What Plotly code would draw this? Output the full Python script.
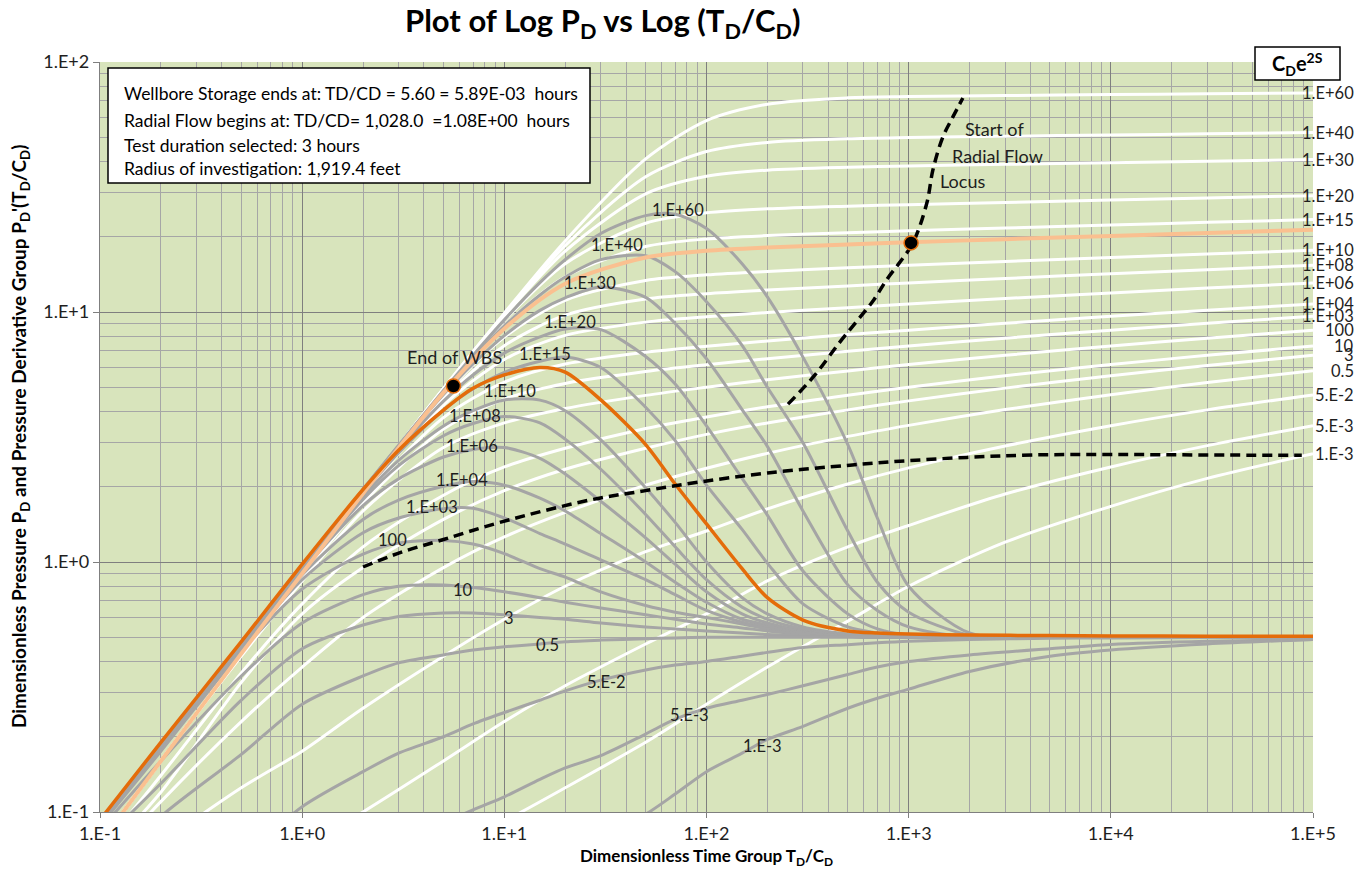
import math
import plotly.graph_objects as go

# ---------------- data ----------------
x_pd = [0.1, 0.2, 0.5, 1, 2, 5, 10, 20, 50, 100, 200, 500, 1000, 3000, 1e4, 3e4, 1e5]
x_der = [0.1, 0.2, 0.5, 1, 2, 3, 5, 7, 10, 15, 20, 30, 50, 70, 100, 150, 200, 300,
         500, 700, 1000, 2000, 5000, 1e4, 3e4, 1e5]

curve_labels = ["1.E+60", "1.E+40", "1.E+30", "1.E+20", "1.E+15", "1.E+10", "1.E+08",
                "1.E+06", "1.E+04", "1.E+03", "100", "10", "3", "0.5", "5.E-2", "5.E-3", "1.E-3"]

# dimensionless pressure P_D (white curves)
pd_1e60 = [0.075, 0.16, 0.43, 0.9, 1.9, 4.95, 9.9, 19.25, 40.96, 58.3, 67.8, 71.9, 72.7, 73.4, 74.1, 74.6, 75.2]
pd_1e40 = [0.075, 0.16, 0.43, 0.9, 1.9, 4.95, 9.79, 18.44, 34.78, 43.83, 47.69, 49.31, 49.85, 50.45, 51.06, 51.61, 52.21]
pd_1e30 = [0.075, 0.16, 0.43, 0.9, 1.9, 4.93, 9.64, 17.53, 29.69, 34.9, 36.94, 37.94, 38.37, 38.95, 39.55, 40.1, 40.7]
pd_1e20 = [0.075, 0.16, 0.43, 0.9, 1.89, 4.88, 9.26, 15.6, 22.64, 24.92, 25.86, 26.5, 26.87, 27.43, 28.04, 28.59, 29.19]
pd_1e15 = [0.075, 0.16, 0.43, 0.9, 1.89, 4.81, 8.83, 13.84, 18.27, 19.59, 20.21, 20.75, 21.12, 21.68, 22.28, 22.83, 23.43]
pd_1e10 = [0.075, 0.16, 0.43, 0.9, 1.87, 4.63, 7.94, 11.14, 13.37, 14.08, 14.53, 15.02, 15.37, 15.92, 16.52, 17.07, 17.67]
pd_1e08 = [0.075, 0.16, 0.43, 0.9, 1.86, 4.49, 7.33, 9.71, 11.27, 11.84, 12.24, 12.71, 13.07, 13.62, 14.22, 14.77, 15.37]
pd_1e06 = [0.075, 0.16, 0.43, 0.89, 1.84, 4.24, 6.46, 8.06, 9.11, 9.57, 9.95, 10.41, 10.77, 11.32, 11.92, 12.47, 13.07]
pd_1e04 = [0.075, 0.16, 0.43, 0.88, 1.78, 3.78, 5.24, 6.19, 6.9, 7.29, 7.65, 8.12, 8.46, 9.01, 9.61, 10.16, 10.77]
pd_1e03 = [0.075, 0.16, 0.43, 0.87, 1.72, 3.4, 4.48, 5.18, 5.78, 6.15, 6.5, 6.97, 7.31, 7.86, 8.46, 9.01, 9.62]
pd_100 = [0.075, 0.16, 0.42, 0.84, 1.6, 2.87, 3.6, 4.11, 4.64, 5.0, 5.36, 5.81, 6.16, 6.71, 7.31, 7.86, 8.46]
pd_10 = [0.07, 0.14, 0.36, 0.68, 1.15, 1.85, 2.4, 2.85, 3.42, 3.8, 4.18, 4.65, 5.0, 5.56, 6.16, 6.71, 7.31]
pd_3 = [0.065, 0.12, 0.33, 0.62, 0.95, 1.48, 1.93, 2.35, 2.85, 3.24, 3.6, 4.06, 4.41, 4.96, 5.56, 6.11, 6.71]
pd_05 = [0.06, 0.11, 0.23, 0.38, 0.6, 0.95, 1.26, 1.58, 2.03, 2.37, 2.72, 3.18, 3.52, 4.07, 4.67, 5.22, 5.82]
pd_5em2 = [0.05, 0.075, 0.125, 0.175, 0.26, 0.42, 0.59, 0.8, 1.1, 1.33, 1.63, 2.05, 2.38, 2.91, 3.51, 4.06, 4.66]
pd_5em3 = [0.02, 0.03, 0.05, 0.072, 0.1, 0.16, 0.23, 0.32, 0.47, 0.62, 0.84, 1.15, 1.4, 1.87, 2.4, 2.92, 3.51]
pd_1em3 = [0.01, 0.014, 0.022, 0.03, 0.045, 0.07, 0.092, 0.125, 0.19, 0.27, 0.38, 0.58, 0.8, 1.2, 1.67, 2.16, 2.71]
pd_selected = [0.075, 0.16, 0.43, 0.9, 1.88, 4.76, 8.58, 12.98, 16.53, 17.58, 18.12, 18.63, 19.0, 19.56, 20.16, 20.71, 21.31]

# pressure derivative group (grey curves)
der_1e60 = [0.09, 0.185, 0.47, 0.95, 1.95, 2.93, 4.85, 6.7, 9.3, 13.1, 16.2, 20.6, 24.3, 24.6, 21.6, 15.6, 11.5, 6.6, 2.95, 1.5, 0.8, 0.52, 0.5, 0.5, 0.5, 0.5]
der_1e40 = [0.09, 0.185, 0.47, 0.95, 1.95, 2.92, 4.82, 6.55, 8.8, 11.7, 13.8, 16.2, 16.8, 14.5, 11.0, 7.35, 5.0, 3.0, 1.33, 0.83, 0.63, 0.51, 0.5, 0.5, 0.5, 0.5]
der_1e30 = [0.09, 0.185, 0.47, 0.95, 1.95, 2.9, 4.68, 6.2, 8.05, 10.15, 11.4, 12.6, 11.45, 9.0, 6.5, 4.07, 2.9, 1.6, 0.81, 0.64, 0.55, 0.5, 0.5, 0.5, 0.5, 0.5]
der_1e20 = [0.09, 0.185, 0.47, 0.95, 1.92, 2.83, 4.4, 5.6, 6.85, 7.95, 8.55, 8.5, 6.64, 5.15, 3.5, 2.16, 1.54, 0.92, 0.62, 0.54, 0.51, 0.5, 0.5, 0.5, 0.5, 0.5]
der_1e15 = [0.09, 0.185, 0.47, 0.95, 1.89, 2.73, 4.05, 4.93, 5.74, 6.35, 6.6, 6.0, 4.16, 3.06, 2.03, 1.35, 0.99, 0.68, 0.55, 0.52, 0.5, 0.5, 0.5, 0.5, 0.5, 0.5]
der_1e10 = [0.09, 0.185, 0.47, 0.94, 1.83, 2.55, 3.5, 4.03, 4.45, 4.44, 4.03, 3.08, 1.98, 1.44, 1.0, 0.72, 0.62, 0.55, 0.515, 0.505, 0.5, 0.5, 0.5, 0.5, 0.5, 0.5]
der_1e08 = [0.09, 0.185, 0.47, 0.93, 1.78, 2.43, 3.2, 3.58, 3.82, 3.6, 3.1, 2.35, 1.55, 1.15, 0.85, 0.66, 0.59, 0.54, 0.51, 0.505, 0.5, 0.5, 0.5, 0.5, 0.5, 0.5]
der_1e06 = [0.09, 0.18, 0.46, 0.92, 1.68, 2.15, 2.63, 2.82, 2.87, 2.6, 2.25, 1.75, 1.25, 0.98, 0.76, 0.62, 0.57, 0.53, 0.51, 0.505, 0.5, 0.5, 0.5, 0.5, 0.5, 0.5]
der_1e04 = [0.09, 0.18, 0.46, 0.89, 1.48, 1.77, 2.01, 2.1, 2.03, 1.8, 1.6, 1.3, 1.0, 0.83, 0.69, 0.59, 0.56, 0.525, 0.508, 0.503, 0.5, 0.5, 0.5, 0.5, 0.5, 0.5]
der_1e03 = [0.09, 0.18, 0.45, 0.85, 1.31, 1.5, 1.635, 1.64, 1.5, 1.3, 1.18, 1.02, 0.85, 0.74, 0.64, 0.575, 0.55, 0.52, 0.505, 0.5, 0.5, 0.5, 0.5, 0.5, 0.5, 0.5]
der_100 = [0.088, 0.175, 0.44, 0.78, 1.075, 1.19, 1.22, 1.18, 1.08, 0.94, 0.87, 0.76, 0.67, 0.63, 0.6, 0.565, 0.54, 0.52, 0.505, 0.5, 0.5, 0.5, 0.5, 0.5, 0.5, 0.5]
der_10 = [0.085, 0.16, 0.35, 0.57, 0.74, 0.8, 0.81, 0.79, 0.76, 0.72, 0.69, 0.655, 0.615, 0.59, 0.565, 0.545, 0.53, 0.515, 0.505, 0.502, 0.5, 0.5, 0.5, 0.5, 0.5, 0.5]
der_3 = [0.075, 0.13, 0.28, 0.45, 0.56, 0.605, 0.625, 0.625, 0.615, 0.6, 0.59, 0.57, 0.55, 0.54, 0.53, 0.52, 0.513, 0.507, 0.503, 0.5, 0.5, 0.5, 0.5, 0.5, 0.5, 0.5]
der_05 = [0.055, 0.096, 0.17, 0.27, 0.35, 0.395, 0.425, 0.445, 0.458, 0.47, 0.48, 0.487, 0.493, 0.497, 0.5, 0.5, 0.5, 0.5, 0.5, 0.5, 0.5, 0.5, 0.5, 0.5, 0.5, 0.5]
der_5em2 = [0.02, 0.035, 0.065, 0.105, 0.145, 0.172, 0.2, 0.225, 0.25, 0.28, 0.305, 0.337, 0.37, 0.387, 0.4, 0.42, 0.435, 0.455, 0.467, 0.475, 0.482, 0.49, 0.495, 0.497, 0.499, 0.5]
der_5em3 = [0.012, 0.018, 0.03, 0.042, 0.06, 0.072, 0.09, 0.102, 0.115, 0.135, 0.15, 0.168, 0.205, 0.235, 0.26, 0.28, 0.295, 0.32, 0.355, 0.38, 0.4, 0.425, 0.45, 0.468, 0.482, 0.49]
der_1em3 = [0.005, 0.007, 0.011, 0.016, 0.022, 0.027, 0.035, 0.042, 0.05, 0.06, 0.068, 0.08, 0.098, 0.118, 0.145, 0.172, 0.195, 0.22, 0.26, 0.285, 0.31, 0.365, 0.42, 0.445, 0.47, 0.49]
der_selected = [0.093, 0.19, 0.48, 0.98, 1.95, 2.8, 4.05, 4.95, 5.6, 6.0, 5.75, 4.45, 2.95, 2.05, 1.42, 0.94, 0.72, 0.586, 0.53, 0.52, 0.515, 0.51, 0.508, 0.506, 0.505, 0.505]

# loci (dashed)
radial_locus_x = [253, 344, 452, 561, 673, 780, 904, 1050, 1230, 1318, 1476, 1655, 1854]
radial_locus_y = [4.28, 5.6, 7.5, 9.3, 11.2, 13.5, 15.8, 18.9, 27.3, 37.0, 50.1, 60.3, 71.8]
wbs_locus_x = [2, 3.05, 5, 9.5, 26.5, 50, 92.7, 200, 512, 904, 1940, 4110, 10600, 30000, 88000]
wbs_locus_y = [0.955, 1.09, 1.23, 1.44, 1.77, 1.93, 2.09, 2.27, 2.44, 2.53, 2.62, 2.68, 2.69, 2.68, 2.67]

# highlighted points
wbs_end_x = [5.60]
wbs_end_y = [5.06]
radial_start_x = [1028.0]
radial_start_y = [18.9]

x_tick_vals = [0.1, 1, 10, 100, 1000, 10000, 100000]
x_tick_text = ["1.E-1", "1.E+0", "1.E+1", "1.E+2", "1.E+3", "1.E+4", "1.E+5"]
y_tick_vals = [0.1, 1, 10, 100]
y_tick_text = ["1.E-1", "1.E+0", "1.E+1", "1.E+2"]

pd_series = [pd_1e60, pd_1e40, pd_1e30, pd_1e20, pd_1e15, pd_1e10, pd_1e08, pd_1e06,
             pd_1e04, pd_1e03, pd_100, pd_10, pd_3, pd_05, pd_5em2, pd_5em3, pd_1em3]
der_series = [der_1e60, der_1e40, der_1e30, der_1e20, der_1e15, der_1e10, der_1e08, der_1e06,
              der_1e04, der_1e03, der_100, der_10, der_3, der_05, der_5em2, der_5em3, der_1em3]

# ---------------- styling ----------------
FONT = "Lato"
TXT = "#1E1E1E"
BG = "#D8E4BC"
GREY = "#A5A5A5"
WHITE = "#FFFFFF"
ORANGE = "#E46C0A"
PEACH = "#FAC090"

fig = go.Figure()

for lab, ys in zip(curve_labels, pd_series):
    fig.add_trace(go.Scatter(x=x_pd, y=ys, mode="lines", name="PD " + lab,
                             line=dict(color=WHITE, width=3, shape="spline", smoothing=0.8),
                             hoverinfo="skip"))

for lab, ys in zip(curve_labels, der_series):
    fig.add_trace(go.Scatter(x=x_der, y=ys, mode="lines", name="Der " + lab,
                             line=dict(color=GREY, width=3, shape="spline", smoothing=0.8),
                             hoverinfo="skip"))

fig.add_trace(go.Scatter(x=x_pd, y=pd_selected, mode="lines", name="PD selected",
                         line=dict(color=PEACH, width=4, shape="spline", smoothing=0.8),
                         hoverinfo="skip"))
fig.add_trace(go.Scatter(x=x_der, y=der_selected, mode="lines", name="Der selected",
                         line=dict(color=ORANGE, width=3.5, shape="spline", smoothing=0.8),
                         hoverinfo="skip"))

fig.add_trace(go.Scatter(x=radial_locus_x, y=radial_locus_y, mode="lines",
                         line=dict(color="black", width=3.5, dash="10px,6px", shape="spline"),
                         hoverinfo="skip"))
fig.add_trace(go.Scatter(x=wbs_locus_x, y=wbs_locus_y, mode="lines",
                         line=dict(color="black", width=3.5, dash="10px,6px", shape="spline"),
                         hoverinfo="skip"))

fig.add_trace(go.Scatter(x=wbs_end_x + radial_start_x, y=wbs_end_y + radial_start_y,
                         mode="markers",
                         marker=dict(color="black", size=14, line=dict(color=ORANGE, width=1.5)),
                         hoverinfo="skip"))

minor_vals = [m * 10 ** e for e in range(-1, 5) for m in range(2, 10)]

fig.update_xaxes(type="log", range=[-1, 5], tickvals=x_tick_vals, ticktext=x_tick_text,
                 showgrid=True, gridcolor="#7F7F7F", gridwidth=1.3,
                 minor=dict(tickvals=minor_vals, showgrid=True, gridcolor="#A6A6A6", gridwidth=1.2,
                            ticks=""),
                 ticks="outside", ticklen=5, tickcolor="#7F7F7F",
                 showline=True, linecolor="#7F7F7F", linewidth=1.3,
                 tickfont=dict(family=FONT, size=18, color=TXT), zeroline=False)
minor_y = [m * 10 ** e for e in range(-1, 2) for m in range(2, 10)]
fig.update_yaxes(type="log", range=[-1, 2], tickvals=y_tick_vals, ticktext=y_tick_text,
                 showgrid=True, gridcolor="#7F7F7F", gridwidth=1.3,
                 minor=dict(tickvals=minor_y, showgrid=True, gridcolor="#A6A6A6", gridwidth=1.2,
                            ticks=""),
                 ticks="outside", ticklen=6, tickcolor="#7F7F7F",
                 showline=True, linecolor="#7F7F7F", linewidth=1.3,
                 tickfont=dict(family=FONT, size=18, color=TXT), zeroline=False)

L, R, T, B = 100, 58, 62, 64
W, H = 1371, 876
PW, PH = W - L - R, H - T - B


def px_x(px):
    return (px - L) / PW


def px_y(py):
    return 1 - (py - T) / PH


ann = []
# title
ann.append(dict(xref="paper", yref="paper", x=px_x(603), y=px_y(22), xanchor="center", yanchor="middle",
                text="<b>Plot of Log P<sub>D</sub> vs Log (T<sub>D</sub>/C<sub>D</sub>)</b>",
                showarrow=False, font=dict(family=FONT, size=31, color="black")))
# axis titles
ann.append(dict(xref="paper", yref="paper", x=px_x(706), y=px_y(857), xanchor="center", yanchor="middle",
                text="<b>Dimensionless Time Group T<sub>D</sub>/C<sub>D</sub></b>",
                showarrow=False, font=dict(family=FONT, size=17, color="black")))
ann.append(dict(xref="paper", yref="paper", x=px_x(20), y=px_y(437), xanchor="center", yanchor="middle",
                textangle=-90,
                text="<b>Dimensionless Pressure P<sub>D</sub> and Pressure Derivative Group P<sub>D</sub>'(T<sub>D</sub>/C<sub>D</sub>)</b>",
                showarrow=False, font=dict(family=FONT, size=19, color="black")))
# info box lines
info_lines = ["Wellbore Storage ends at: TD/CD = 5.60 = 5.89E-03  hours",
              "Radial Flow begins at: TD/CD= 1,028.0  =1.08E+00  hours",
              "Test duration selected: 3 hours",
              "Radius of investigation: 1,919.4 feet"]
for txt, py in zip(info_lines, [94, 120, 145, 168]):
    ann.append(dict(xref="paper", yref="paper", x=px_x(122), y=px_y(py), xanchor="left", yanchor="middle",
                    text=txt, showarrow=False, font=dict(family=FONT, size=17.5, color="black")))
# CDe2S header
ann.append(dict(xref="paper", yref="paper", x=px_x(1297), y=px_y(64), xanchor="center", yanchor="middle",
                text="<b>C<sub>D</sub>e<sup>2S</sup></b>", showarrow=False,
                font=dict(family=FONT, size=20, color="black")))
# right-hand labels at the end of each P_D curve
for lab, ys in zip(curve_labels, pd_series):
    ann.append(dict(xref="paper", yref="y", x=1.0, xshift=43, y=math.log10(ys[-1]),
                    xanchor="right", yanchor="middle", text=lab, showarrow=False,
                    font=dict(family=FONT, size=16.5, color=TXT)))
# labels on derivative humps
peak_pos = [(72.3, 25.6), (36.1, 18.5), (26.5, 13.1), (21.1, 9.12), (15.9, 6.79), (10.7, 4.83),
            (7.16, 3.84), (6.92, 2.91), (6.17, 2.13), (4.39, 1.66), (2.81, 1.22), (6.24, 0.773),
            (10.5, 0.597), (16.3, 0.466), (32.1, 0.331), (82.8, 0.244), (190, 0.184)]
for lab, (px_, py_) in zip(curve_labels, peak_pos):
    ann.append(dict(x=math.log10(px_), y=math.log10(py_), xanchor="center", yanchor="middle",
                    text=lab, showarrow=False, font=dict(family=FONT, size=16.5, color=TXT)))
ann.append(dict(x=math.log10(5.7), y=math.log10(6.6), xanchor="center", yanchor="middle",
                text="End of WBS", showarrow=False, font=dict(family=FONT, size=18, color=TXT)))
for txt, (xx, yy) in zip(["Start of", "Radial Flow", "Locus"],
                         [(2667, 54.0), (2761, 42.1), (1853, 33.4)]):
    ann.append(dict(x=math.log10(xx), y=math.log10(yy), xanchor="center", yanchor="middle",
                    text=txt, showarrow=False, font=dict(family=FONT, size=18, color=TXT)))

shapes = [
    dict(type="rect", xref="paper", yref="paper", x0=px_x(108), x1=px_x(590), y0=px_y(183), y1=px_y(68),
         fillcolor="white", line=dict(color="black", width=1.5), layer="above"),
    dict(type="rect", xref="paper", yref="paper", x0=px_x(1255), x1=px_x(1340), y0=px_y(80), y1=px_y(47),
         fillcolor="white", line=dict(color="black", width=1.5), layer="above"),
]

fig.update_layout(width=W, height=H, margin=dict(l=L, r=R, t=T, b=B),
                  plot_bgcolor=BG, paper_bgcolor="white", showlegend=False,
                  annotations=ann, shapes=shapes,
                  font=dict(family=FONT, color=TXT))

fig.write_html("out.html")
